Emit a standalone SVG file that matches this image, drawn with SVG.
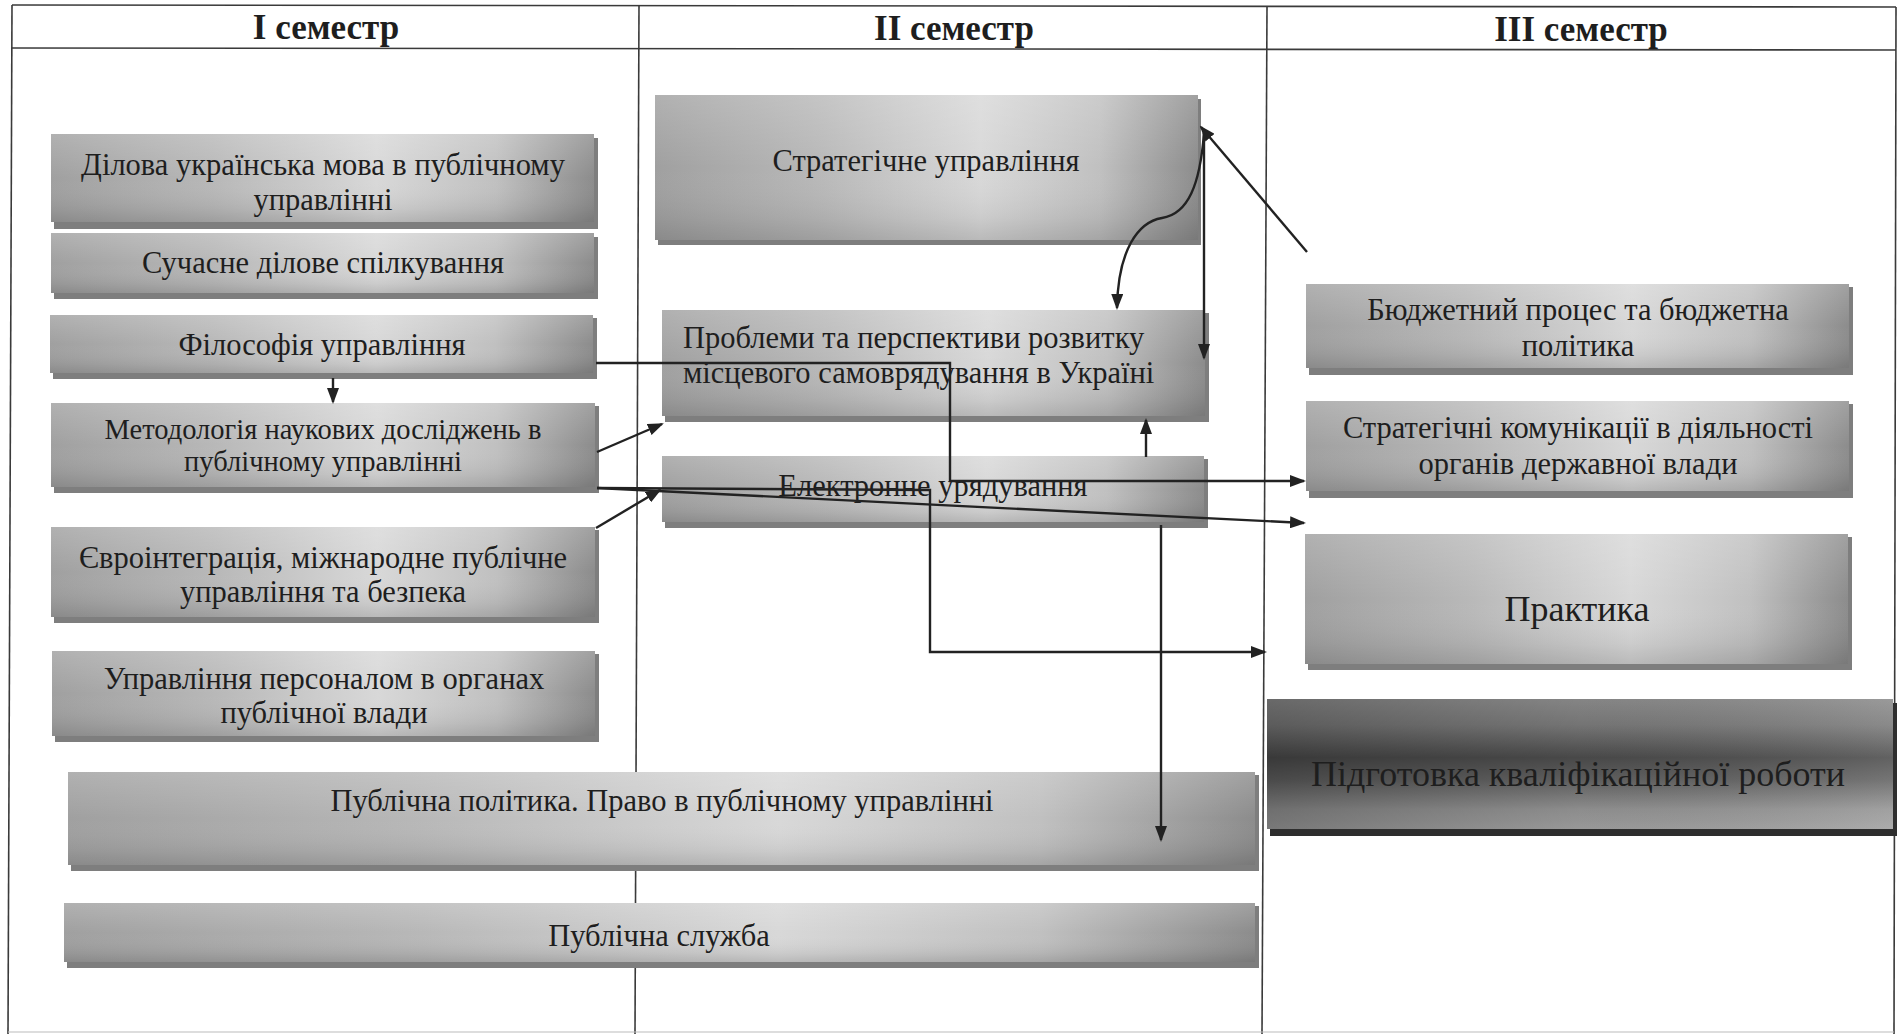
<svg xmlns="http://www.w3.org/2000/svg" width="1900" height="1034" viewBox="0 0 1900 1034">
<defs>
<linearGradient id="gh" x1="0" y1="0" x2="1" y2="0">
<stop offset="0" stop-color="#a0a0a0"/>
<stop offset="0.3" stop-color="#b8b8b8"/>
<stop offset="0.6" stop-color="#d8d8d8"/>
<stop offset="0.82" stop-color="#c0c0c0"/>
<stop offset="1" stop-color="#8c8c8c"/>
</linearGradient>
<linearGradient id="gv" x1="0" y1="0" x2="0" y2="1">
<stop offset="0" stop-color="#ffffff" stop-opacity="0.18"/>
<stop offset="0.5" stop-color="#ffffff" stop-opacity="0"/>
<stop offset="0.85" stop-color="#000000" stop-opacity="0.06"/>
<stop offset="1" stop-color="#000000" stop-opacity="0.14"/>
</linearGradient>
<linearGradient id="dv" x1="0" y1="0" x2="0" y2="1">
<stop offset="0" stop-color="#8c8c8c"/>
<stop offset="0.2" stop-color="#7a7a7a"/>
<stop offset="0.45" stop-color="#4c4c4c"/>
<stop offset="0.62" stop-color="#626262"/>
<stop offset="0.85" stop-color="#949494"/>
<stop offset="1" stop-color="#a0a0a0"/>
</linearGradient>
<linearGradient id="dh" x1="0" y1="0" x2="1" y2="0">
<stop offset="0" stop-color="#000000" stop-opacity="0.25"/>
<stop offset="0.5" stop-color="#000000" stop-opacity="0.05"/>
<stop offset="1" stop-color="#ffffff" stop-opacity="0.12"/>
</linearGradient>
<marker id="ar" markerUnits="userSpaceOnUse" markerWidth="16" markerHeight="12" refX="14" refY="6" orient="auto" viewBox="0 0 16 12">
<path d="M0,0 L16,6 L0,12 z" fill="#222"/>
</marker>
<style>
.tl{stroke:#3a3a3a;stroke-width:1.6;fill:none}
.sh{fill:#7e7e7e}
.bx{fill:url(#gh)}
.ov{fill:url(#gv)}
.t{font-family:"Liberation Serif","Times New Roman",serif;font-size:30.5px;fill:#1e1e1e;text-anchor:middle}
.sm{font-size:28.5px}
.tlft{text-anchor:start}
.big{font-size:36px}
.hd{font-family:"Liberation Serif","Times New Roman",serif;font-size:35px;font-weight:bold;fill:#1e1e1e;text-anchor:middle}
.cn{stroke:#222;stroke-width:2.4;fill:none;marker-end:url(#ar)}
</style>
</defs>
<rect x="0" y="0" width="1900" height="1034" fill="#ffffff"/>
<g id="table">
<line class="tl" x1="12" y1="5" x2="1896" y2="7"/>
<line class="tl" x1="12" y1="48" x2="1896" y2="50"/>
<line class="tl" x1="12" y1="5" x2="8" y2="1034"/>
<line class="tl" x1="639" y1="5" x2="635" y2="1034"/>
<line class="tl" x1="1267" y1="7" x2="1262" y2="1034"/>
<line class="tl" x1="1896" y1="7" x2="1894" y2="1034"/>
<line x1="8" y1="1032" x2="1894" y2="1032" stroke="#bbbbbb" stroke-width="1.2"/>
<text class="hd" x="326" y="39">I семестр</text>
<text class="hd" x="954" y="40">II семестр</text>
<text class="hd" x="1581" y="41">III семестр</text>
</g>
<g id="n1"><rect class="sh" x="54" y="138" width="544" height="91"/><rect class="bx" x="51" y="134" width="543" height="88"/><rect class="ov" x="51" y="134" width="543" height="88"/>
<text class="t" x="323" y="175">Ділова українська мова в публічному</text><text class="t" x="323" y="210">управлінні</text></g>
<g id="n2"><rect class="sh" x="54" y="237" width="544" height="62"/><rect class="bx" x="51" y="233" width="543" height="60"/><rect class="ov" x="51" y="233" width="543" height="60"/>
<text class="t" x="323" y="273">Сучасне ділове спілкування</text></g>
<g id="n3"><rect class="sh" x="53" y="318" width="544" height="61"/><rect class="bx" x="50" y="315" width="543" height="58"/><rect class="ov" x="50" y="315" width="543" height="58"/>
<text class="t" x="322" y="355">Філософія управління</text></g>
<g id="n4"><rect class="sh" x="54" y="406" width="545" height="87"/><rect class="bx" x="51" y="403" width="544" height="84"/><rect class="ov" x="51" y="403" width="544" height="84"/>
<text class="t sm" x="323" y="439">Методологія наукових досліджень в</text><text class="t sm" x="323" y="471">публічному управлінні</text></g>
<g id="n5"><rect class="sh" x="54" y="530" width="545" height="93"/><rect class="bx" x="51" y="527" width="544" height="90"/><rect class="ov" x="51" y="527" width="544" height="90"/>
<text class="t" x="323" y="568">Євроінтеграція, міжнародне публічне</text><text class="t" x="323" y="602">управління та безпека</text></g>
<g id="n6"><rect class="sh" x="55" y="654" width="544" height="88"/><rect class="bx" x="52" y="651" width="543" height="85"/><rect class="ov" x="52" y="651" width="543" height="85"/>
<text class="t" x="324" y="689">Управління персоналом в органах</text><text class="t" x="324" y="723">публічної влади</text></g>
<g id="n7"><rect class="sh" x="71" y="775" width="1188" height="96"/><rect class="bx" x="68" y="772" width="1187" height="93"/><rect class="ov" x="68" y="772" width="1187" height="93"/>
<text class="t" x="662" y="811">Публічна політика. Право в публічному управлінні</text></g>
<g id="n8"><rect class="sh" x="67" y="906" width="1192" height="62"/><rect class="bx" x="64" y="903" width="1191" height="59"/><rect class="ov" x="64" y="903" width="1191" height="59"/>
<text class="t" x="659" y="946">Публічна служба</text></g>
<g id="n9"><rect class="sh" x="658" y="99" width="543" height="146"/><rect class="bx" x="655" y="95" width="543" height="145"/><rect class="ov" x="655" y="95" width="543" height="145"/>
<text class="t" x="926" y="171">Стратегічне управління</text></g>
<g id="n10"><rect class="sh" x="665" y="313" width="544" height="109"/><rect class="bx" x="662" y="310" width="543" height="106"/><rect class="ov" x="662" y="310" width="543" height="106"/>
<text class="t tlft" x="683" y="348">Проблеми та перспективи розвитку</text><text class="t tlft" x="683" y="383">місцевого самоврядування в Україні</text></g>
<g id="n11"><rect class="sh" x="665" y="459" width="543" height="69"/><rect class="bx" x="662" y="456" width="542" height="66"/><rect class="ov" x="662" y="456" width="542" height="66"/>
<text class="t" x="933" y="496">Електронне урядування</text></g>
<g id="n12"><rect class="sh" x="1309" y="287" width="544" height="88"/><rect class="bx" x="1306" y="284" width="543" height="84"/><rect class="ov" x="1306" y="284" width="543" height="84"/>
<text class="t" x="1578" y="320">Бюджетний процес та бюджетна</text><text class="t" x="1578" y="356">політика</text></g>
<g id="n13"><rect class="sh" x="1309" y="404" width="544" height="94"/><rect class="bx" x="1306" y="401" width="543" height="90"/><rect class="ov" x="1306" y="401" width="543" height="90"/>
<text class="t" x="1578" y="438">Стратегічні комунікації в діяльності</text><text class="t" x="1578" y="474">органів державної влади</text></g>
<g id="n14"><rect class="sh" x="1308" y="537" width="544" height="133"/><rect class="bx" x="1305" y="534" width="543" height="130"/><rect class="ov" x="1305" y="534" width="543" height="130"/>
<text class="t big" x="1577" y="621">Практика</text></g>
<g id="n15"><rect x="1270" y="703" width="627" height="133" fill="#2e2e2e"/><rect x="1267" y="699" width="626" height="130" fill="url(#dv)"/><rect x="1267" y="699" width="626" height="130" fill="url(#dh)"/>
<text class="t big" x="1578" y="786" fill="#1a1a1a">Підготовка кваліфікаційної роботи</text></g>
<g id="connectors">
<path class="cn" d="M333,378 L333,402"/>
<path class="cn" d="M596,363 L950,363 L950,481 L1304,481"/>
<path class="cn" d="M597,452 L662,424"/>
<path class="cn" d="M597,488 L930,490 L930,652 L1265,652"/>
<path class="cn" d="M597,488 L1304,523"/>
<path class="cn" d="M596,528 L660,490"/>
<path class="cn" d="M1146,457 L1146,420"/>
<path class="cn" d="M1161,525 L1161,840"/>
<path class="cn" d="M1204,133 C1200,185 1188,214 1162,218 C1138,222 1118,250 1117,308"/>
<path class="cn" d="M1204,133 L1204,358"/>
<path class="cn" d="M1307,252 L1201,127"/>
</g>
</svg>
